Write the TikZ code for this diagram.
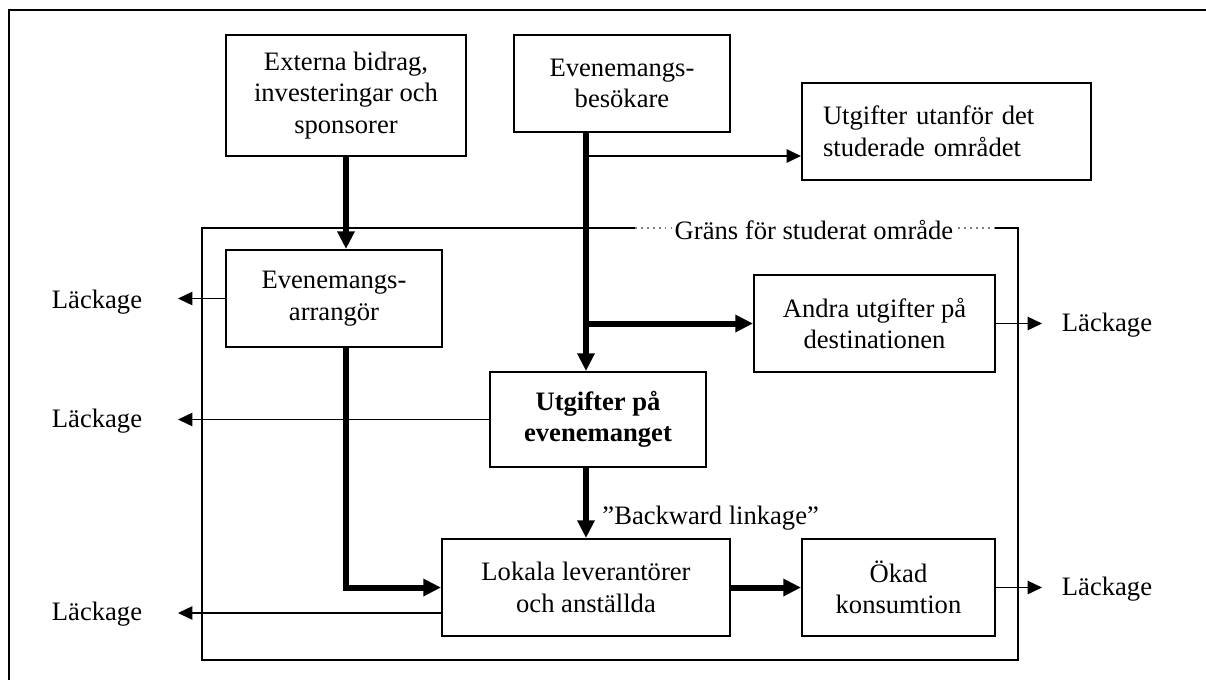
\documentclass[tikz,border=0pt]{standalone}
\usepackage{fontspec}
\setmainfont{Liberation Serif}
\usetikzlibrary{arrows.meta}
\begin{document}
\begin{tikzpicture}[x=0.451pt,y=-0.451pt,
  font=\fontsize{12}{14.2}\selectfont,
  bx/.style 2 args={draw,line width=0.9pt,align=center,inner sep=2pt,
     minimum width=#1*0.451pt,minimum height=#2*0.451pt},
  txt/.style={inner sep=0pt},
  thinarr/.style={line width=0.8pt,-{Triangle[length=6.5pt,width=6pt]}},
  thickarr/.style={line width=2.7pt,-{Triangle[length=8pt,width=7.5pt]}},
  thickline/.style={line width=2.7pt},
  thinline/.style={line width=0.8pt}]
\useasboundingbox (0,0) rectangle (1206,679);
% outer frame
\draw[line width=1pt] (1210,10) -- (9,10) -- (9,684);
% boundary of studied area
\draw[thinline] (635,228) -- (202,228) -- (202,660) -- (1018,660) -- (1018,228) -- (995,228);
\draw[gray,dotted,line width=0.7pt] (635,228) -- (995,228);
\node[txt,fill=white,inner xsep=1pt] (grans) at (814,230) {Gräns för studerat område};
% boxes
\node[bx={240}{121}] (ext) at (346,95.5) {Externa bidrag,\\investeringar och\\sponsorer};
\node[bx={216}{97}] (bes) at (622,83.5) {Evenemangs-\\besökare};
\node[bx={289}{97},align=left,text width=247*0.451pt,inner xsep=21*0.451pt] (utan) at (946.5,131.5) {Utgifter utanför det\\studerade området};
\node[bx={216}{97}] (arr) at (334,298.5) {Evenemangs-\\arrangör};
\node[bx={241}{97}] (andra) at (874.5,323.5) {Andra utgifter på\\destinationen};
\node[bx={216}{95},font=\fontsize{12}{14.2}\selectfont\bfseries] (evt) at (598,419.5) {Utgifter på\\evenemanget};
\node[bx={288}{97}] (lok) at (586,587.5) {Lokala leverantörer\\och anställda};
\node[bx={193}{97}] (okad) at (898.5,587.5) {Ökad\\konsumtion};
% leakage labels
\node[txt] (L1) at (97,302) {Läckage};
\node[txt] (L2) at (97,421) {Läckage};
\node[txt] (L3) at (97,614) {Läckage};
\node[txt] (R1) at (1107,325) {Läckage};
\node[txt] (R2) at (1107,589) {Läckage};
\coordinate (l1) at (178,298.5);
\coordinate (l2) at (178,419.5);
\coordinate (l3) at (178,613);
\coordinate (r1) at (1042,323.5);
\coordinate (r2) at (1042,587.5);
\coordinate (ub) at (586,156);
% thick flows
\draw[thickarr] (ext.south) -- (ext.south |- arr.north);
\draw[thickarr] (lok.north |- bes.south) -- (lok.north |- evt.north);
\draw[thickarr] (lok.north |- andra.west) -- (andra.west);
\draw[thickarr] (ext.south |- arr.south) |- (lok.west);
\draw[thickarr] (lok.north |- evt.south) -- (lok.north);
\draw[thickarr] (lok.east) -- (okad.west);
% thin flows
\draw[thinarr] (ub) -- (utan.west |- ub);
\draw[thinarr] (arr.west) -- (l1);
\draw[thinarr] (evt.west) -- (l2);
\draw[thinarr] (lok.west |- l3) -- (l3);
\draw[thinarr] (andra.east) -- (r1);
\draw[thinarr] (okad.east) -- (r2);
% label
\node[txt,anchor=west] (bl) at (602,518) {”Backward linkage”};
\end{tikzpicture}
\end{document}
